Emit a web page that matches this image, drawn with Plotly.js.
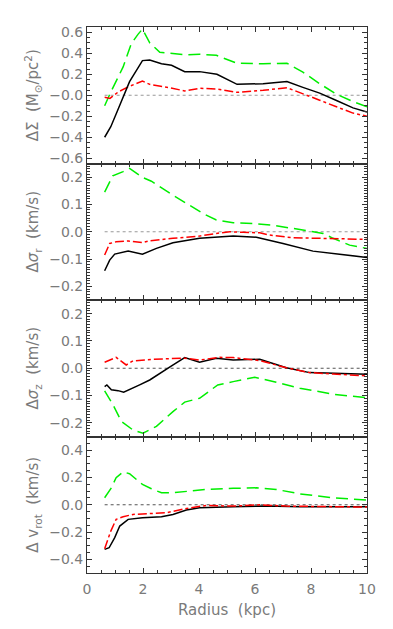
<!DOCTYPE html>
<html>
<head>
<meta charset="utf-8">
<script src="https://cdn.plot.ly/plotly-3.0.1.min.js"></script>
<style>
  html, body { margin: 0; padding: 0; background: #fff; }
  #plot { width: 393px; height: 629px; }
</style>
</head>
<body>
<div id="plot"></div>
<script>
// Panel 1: delta Sigma
const sigBlackX = [0.63, 0.85, 1.07, 1.29, 1.52, 1.98, 2.24, 2.66, 3.02, 3.49, 4.02, 4.64, 5.36, 6.29, 7.14, 7.71, 8.31, 8.91, 9.5, 10.0];
const sigBlackY = [-0.40, -0.30, -0.16, -0.02, 0.13, 0.33, 0.335, 0.30, 0.285, 0.225, 0.225, 0.20, 0.104, 0.11, 0.13, 0.075, 0.02, -0.05, -0.12, -0.16];
const sigGreenX = [0.63, 0.85, 1.29, 1.58, 1.82, 1.98, 2.24, 2.6, 2.95, 3.49, 4.02, 4.62, 5.36, 6.29, 7.14, 7.71, 8.31, 8.91, 9.5, 10.0];
const sigGreenY = [-0.10, 0.03, 0.27, 0.49, 0.58, 0.63, 0.50, 0.41, 0.40, 0.385, 0.39, 0.38, 0.305, 0.30, 0.305, 0.22, 0.11, 0.01, -0.06, -0.11];
const sigRedX = [0.63, 0.82, 1.11, 1.47, 1.98, 2.24, 2.95, 3.49, 4.02, 4.62, 5.36, 6.29, 7.14, 7.71, 8.31, 8.91, 9.5, 10.0];
const sigRedY = [-0.02, -0.03, 0.03, 0.08, 0.135, 0.104, 0.072, 0.041, 0.066, 0.06, 0.028, 0.047, 0.072, 0.016, -0.047, -0.11, -0.17, -0.20];

// Panel 2: delta sigma_r
const srBlackX = [0.63, 0.81, 0.99, 1.47, 1.98, 2.48, 3.07, 4.02, 5.22, 6.05, 7.0, 8.07, 9.02, 10.0];
const srBlackY = [-0.143, -0.104, -0.082, -0.071, -0.082, -0.061, -0.040, -0.024, -0.016, -0.020, -0.043, -0.071, -0.082, -0.094];
const srGreenX = [0.63, 0.92, 1.29, 1.52, 1.98, 2.3, 3.07, 3.55, 4.14, 4.62, 5.22, 5.93, 6.64, 7.36, 8.07, 8.43, 8.79, 9.38, 10.0];
const srGreenY = [0.145, 0.205, 0.22, 0.232, 0.199, 0.185, 0.134, 0.104, 0.067, 0.043, 0.033, 0.030, 0.024, 0.012, 0.0, -0.006, -0.024, -0.049, -0.061];
const srRedX = [0.63, 0.81, 1.04, 1.47, 1.98, 2.24, 3.07, 4.02, 4.62, 5.1, 5.57, 6.17, 6.52, 7.36, 8.31, 10.0];
const srRedY = [-0.085, -0.043, -0.037, -0.034, -0.040, -0.033, -0.024, -0.016, -0.006, 0.0, -0.002, -0.004, -0.012, -0.022, -0.024, -0.028];

// Panel 3: delta sigma_z
const szBlackX = [0.63, 0.71, 0.87, 1.11, 1.31, 1.52, 1.88, 2.24, 2.6, 3.02, 3.49, 4.02, 4.62, 5.22, 6.17, 6.64, 7.12, 7.95, 8.79, 10.0];
const szBlackY = [-0.067, -0.061, -0.079, -0.082, -0.088, -0.079, -0.061, -0.043, -0.018, 0.009, 0.039, 0.022, 0.037, 0.030, 0.033, 0.018, 0.002, -0.016, -0.018, -0.022];
const szGreenX = [0.63, 0.93, 1.23, 1.64, 2.0, 2.48, 3.07, 3.49, 4.02, 4.67, 5.22, 5.99, 6.76, 7.6, 8.79, 10.0];
const szGreenY = [-0.083, -0.134, -0.195, -0.226, -0.238, -0.213, -0.159, -0.124, -0.110, -0.061, -0.049, -0.033, -0.051, -0.073, -0.095, -0.108];
const szRedX = [0.63, 1.04, 1.4, 1.64, 2.36, 3.07, 3.49, 4.02, 4.74, 5.22, 6.17, 7.12, 7.95, 8.79, 10.0];
const szRedY = [0.022, 0.040, 0.012, 0.027, 0.033, 0.037, 0.037, 0.030, 0.040, 0.039, 0.028, 0.002, -0.016, -0.021, -0.028];

// Panel 4: delta v_rot
const vrBlackX = [0.63, 0.79, 0.99, 1.17, 1.47, 1.98, 2.66, 3.07, 3.55, 4.02, 5.22, 6.41, 7.6, 10.0];
const vrBlackY = [-0.327, -0.315, -0.241, -0.156, -0.107, -0.095, -0.088, -0.071, -0.039, -0.022, -0.015, -0.010, -0.015, -0.015];
const vrGreenX = [0.63, 0.87, 1.04, 1.29, 1.52, 1.98, 2.3, 2.66, 3.07, 3.55, 4.26, 5.22, 6.05, 6.76, 7.6, 8.79, 10.0];
const vrGreenY = [0.051, 0.124, 0.198, 0.241, 0.227, 0.149, 0.117, 0.088, 0.088, 0.098, 0.112, 0.120, 0.124, 0.112, 0.080, 0.051, 0.034];
const vrRedX = [0.63, 0.85, 1.04, 1.29, 1.64, 2.12, 2.83, 3.55, 4.26, 5.22, 6.17, 7.12, 8.31, 10.0];
const vrRedY = [-0.322, -0.193, -0.107, -0.088, -0.071, -0.066, -0.059, -0.027, -0.005, -0.010, 0.0, -0.010, -0.015, -0.017];

const zeroX = [0.63, 10.0];
const zeroY = [0, 0];

const xTickVals = [0, 2, 4, 6, 8, 10];
const sigTickVals = [-0.6, -0.4, -0.2, 0.0, 0.2, 0.4, 0.6];
const sigTickText = ["\u22120.6", "\u22120.4", "\u22120.2", "\u22120.0", "0.2", "0.4", "0.6"];
const sTickVals = [-0.2, -0.1, 0.0, 0.1, 0.2];
const sTickText = ["\u22120.2", "\u22120.1", "0.0", "0.1", "0.2"];
const vTickVals = [-0.4, -0.2, 0.0, 0.2, 0.4];
const vTickText = ["\u22120.4", "\u22120.2", "0.0", "0.2", "0.4"];

const GREEN = "#00ee00", RED = "#ff0000", BLACK = "#000000";
const TXT = "#7a7a7a", AX = "#333333";
const LONGDASH = "12px,6px";

function line(x, y, color, dash, n, width) {
  const sfx = n === 1 ? "" : String(n);
  return {
    type: "scatter", mode: "lines", x: x, y: y,
    xaxis: "x" + sfx, yaxis: "y" + sfx,
    line: { color: color, dash: dash, width: width || 1.5 },
    hoverinfo: "skip"
  };
}

const traces = [
  line(zeroX, zeroY, "#999", "dot", 1, 1.2),
  line(sigGreenX, sigGreenY, GREEN, LONGDASH, 1),
  line(sigRedX, sigRedY, RED, "dashdot", 1),
  line(sigBlackX, sigBlackY, BLACK, "solid", 1),

  line(zeroX, zeroY, "#999", "dot", 2, 1.2),
  line(srGreenX, srGreenY, GREEN, LONGDASH, 2),
  line(srRedX, srRedY, RED, "dashdot", 2),
  line(srBlackX, srBlackY, BLACK, "solid", 2),

  line(zeroX, zeroY, "#555", "dot", 3, 1.2),
  line(szGreenX, szGreenY, GREEN, LONGDASH, 3),
  line(szBlackX, szBlackY, BLACK, "solid", 3),
  line(szRedX, szRedY, RED, "dashdot", 3),

  line(zeroX, zeroY, "#555", "dot", 4, 1.2),
  line(vrGreenX, vrGreenY, GREEN, LONGDASH, 4),
  line(vrBlackX, vrBlackY, BLACK, "solid", 4),
  line(vrRedX, vrRedY, RED, "dashdot", 4)
];

const tickFont = { family: "DejaVu Sans, sans-serif", size: 14, color: TXT };
const titleFont = { family: "DejaVu Sans, sans-serif", size: 15, color: TXT };

function xAxis(anchor, labels) {
  const ax = {
    anchor: anchor, range: [0, 10], autorange: false,
    showline: true, linecolor: AX, linewidth: 1, mirror: "allticks",
    ticks: "inside", ticklen: 5, tickcolor: AX, tickwidth: 1,
    tickvals: xTickVals, showgrid: false, zeroline: false,
    showticklabels: labels, tickfont: tickFont, ticklabelstandoff: 3,
    minor: { dtick: 0.5, ticks: "inside", ticklen: 3, tickcolor: AX, showgrid: false }
  };
  if (labels) {
    ax.title = { text: "Radius  (kpc)", font: titleFont, standoff: 8 };
  }
  return ax;
}

function yAxis(anchor, domain, range, vals, text, minor, title) {
  return {
    anchor: anchor, domain: domain, range: range, autorange: false,
    showline: true, linecolor: AX, linewidth: 1, mirror: "allticks",
    ticks: "inside", ticklen: 5, tickcolor: AX, tickwidth: 1,
    tickvals: vals, ticktext: text, showgrid: false, zeroline: false,
    tickfont: tickFont,
    minor: { dtick: minor, tick0: 0, ticks: "inside", ticklen: 3, tickcolor: AX, showgrid: false },
    title: { text: title, font: titleFont, standoff: 6 }
  };
}

const h = 0.25;
const layout = {
  width: 393, height: 629,
  margin: { l: 87, r: 26, t: 27, b: 56 },
  paper_bgcolor: "#ffffff", plot_bgcolor: "#ffffff",
  showlegend: false,
  font: tickFont,
  xaxis: xAxis("y", false),
  xaxis2: xAxis("y2", false),
  xaxis3: xAxis("y3", false),
  xaxis4: xAxis("y4", true),
  yaxis: yAxis("x", [3 * h, 1], [-0.65, 0.65], sigTickVals, sigTickText, 0.05,
    "\u0394\u03a3  (M<sub>\u2299</sub>/pc<sup>2</sup>)"),
  yaxis2: yAxis("x2", [2 * h, 3 * h], [-0.25, 0.25], sTickVals, sTickText, 0.01,
    "\u0394<i>\u03c3</i><sub>r</sub>  (km/s)"),
  yaxis3: yAxis("x3", [h, 2 * h], [-0.25, 0.25], sTickVals, sTickText, 0.01,
    "\u0394<i>\u03c3</i><sub>z</sub>  (km/s)"),
  yaxis4: yAxis("x4", [0, h], [-0.5, 0.5], vTickVals, vTickText, 0.05,
    "\u0394 v<sub>rot</sub>  (km/s)")
};

Plotly.newPlot("plot", traces, layout, { staticPlot: true, displayModeBar: false });
</script>
</body>
</html>
